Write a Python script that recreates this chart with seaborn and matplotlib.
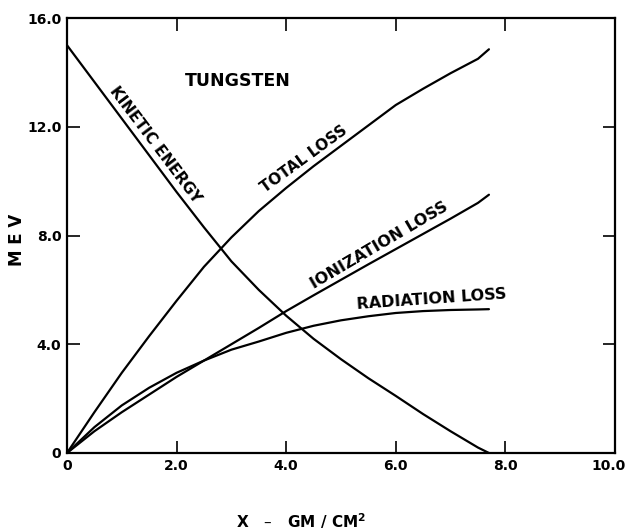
import numpy as np
import pandas as pd
import seaborn as sns
import matplotlib.pyplot as plt
from matplotlib.transforms import ScaledTranslation

# thickness of tungsten, gm/cm^2
x_vals = [0.0, 0.5, 1.0, 1.5, 2.0, 2.5, 3.0, 3.5, 4.0, 4.5, 5.0, 5.5, 6.0, 6.5, 7.0, 7.5, 7.7]

kinetic = [15.0, 13.65, 12.3, 10.95, 9.6, 8.3, 7.05, 6.0, 5.05, 4.2, 3.45, 2.75, 2.1, 1.43, 0.8, 0.2, 0.0]
total_loss = [0.0, 1.5, 2.95, 4.3, 5.6, 6.85, 7.93, 8.9, 9.75, 10.55, 11.3, 12.05, 12.8, 13.4, 13.97, 14.5, 14.85]
ionization_loss = [0.0, 0.8, 1.5, 2.15, 2.8, 3.4, 4.0, 4.6, 5.22, 5.8, 6.37, 6.94, 7.5, 8.06, 8.62, 9.2, 9.5]
radiation_loss = [0.0, 0.95, 1.75, 2.4, 2.95, 3.4, 3.8, 4.1, 4.42, 4.68, 4.88, 5.03, 5.15, 5.22, 5.26, 5.28, 5.29]

x_ticks = [0, 2, 4, 6, 8, 10]
x_tick_labels = ["0", "2.0", "4.0", "6.0", "8.0", "10.0"]
y_ticks = [0, 4, 8, 12, 16]
y_tick_labels = ["0", "4.0", "8.0", "12.0", "16.0"]

series = {
    "KINETIC ENERGY": kinetic,
    "TOTAL LOSS": total_loss,
    "IONIZATION LOSS": ionization_loss,
    "RADIATION LOSS": radiation_loss,
}

df = pd.concat(
    [pd.DataFrame({"x": x_vals, "mev": v, "curve": k}) for k, v in series.items()],
    ignore_index=True,
)

sns.set_style("ticks")
plt.rcParams["font.family"] = ["DejaVu Sans"]
plt.rcParams.update({"text.color": "black", "axes.labelcolor": "black",
                     "xtick.color": "black", "ytick.color": "black",
                     "axes.edgecolor": "black"})

fig = plt.figure(figsize=(6.29, 5.30), dpi=100)
ax = fig.add_axes([0.1065, 0.1453, 0.8712, 0.8207])

sns.lineplot(data=df, x="x", y="mev", hue="curve", palette=["black"] * 4,
             linewidth=1.6, legend=False, sort=False, estimator=None, ax=ax)

ax.set_xlim(0, 10)
ax.set_ylim(0, 16)
ax.set_xticks(x_ticks)
ax.set_xticklabels(x_tick_labels, fontsize=10, fontweight="bold")
ax.set_yticks(y_ticks)
ax.set_yticklabels(y_tick_labels, fontsize=10, fontweight="bold")
ax.tick_params(direction="in", length=9, width=1.2, top=True, right=True, pad=4)

# nudge "10.0" inside the figure
last = ax.get_xticklabels()[-1]
last.set_transform(last.get_transform() + ScaledTranslation(-0.06, 0, fig.dpi_scale_trans))

for s in ax.spines.values():
    s.set_linewidth(1.6)
    s.set_visible(True)

ax.set_xlabel("X   –   GM / CM$^{\\mathbf{2}}$", fontsize=11, fontweight="bold")
ax.xaxis.set_label_coords(0.427, -0.135)
ax.set_ylabel("M E V", fontsize=12, fontweight="bold")
ax.yaxis.set_label_coords(-0.075, 0.49)

ax.text(3.12, 13.7, "TUNGSTEN", fontsize=12.5, fontweight="bold", ha="center", va="center")


def line_label(text, xpos, yvals, angle, dist, size=11):
    # put the label just above its curve, rotated along it
    ypos = np.interp(xpos, x_vals, yvals)
    a = np.deg2rad(angle)
    ax.annotate(text, xy=(xpos, ypos), xytext=(-dist * np.sin(a), dist * np.cos(a)),
                textcoords="offset points", rotation=angle, rotation_mode="anchor",
                ha="center", va="center", fontsize=size, fontweight="bold")


line_label("KINETIC ENERGY", 1.45, kinetic, -53, 8)
line_label("TOTAL LOSS", 4.45, total_loss, 36, 8.5)
line_label("IONIZATION LOSS", 5.8, ionization_loss, 30.5, 8, size=11.5)
line_label("RADIATION LOSS", 6.66, radiation_loss, 4, 8, size=11.5)

fig.savefig("out.png", dpi=100)
